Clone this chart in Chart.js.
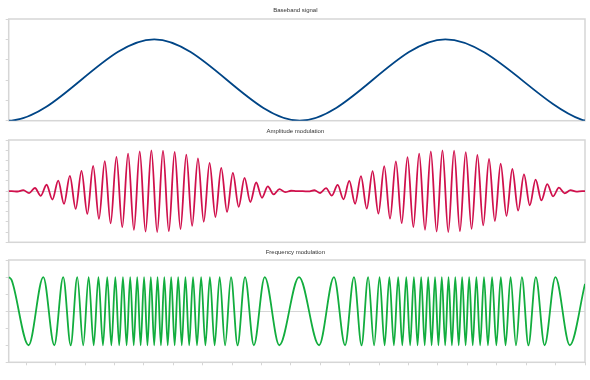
<!doctype html>
<html lang="en">
<head>
<meta charset="utf-8">
<title>Modulation</title>
<script src="https://cdn.jsdelivr.net/npm/chart.js@4.4.0/dist/chart.umd.min.js"></script>
<style>
  body { margin: 0; background: #fff; }
  #wrap { position: relative; width: 590px; height: 380px; }
  canvas { position: absolute; left: 0; }
</style>
</head>
<body>
<div id="wrap">
  <canvas id="base" width="590" height="125" style="top:0px"></canvas>
  <canvas id="am" width="590" height="120" style="top:125px"></canvas>
  <canvas id="fm" width="590" height="135" style="top:245px"></canvas>
</div>

<script>
// time runs 2..100, ticks every 5 on the bottom axis
var baseTimes  = [2, 2.5, 26.75, 51.5, 76.25, 99.5, 100];
var baseValues = [0, 0.004, 4, 0, 4, 0.036, 0.016];

// AM: carrier peaks / troughs
var amTimes = [2, 2.50, 3.49, 4.48, 5.47, 6.46, 7.45, 8.44, 9.43, 10.42, 11.41, 12.40, 13.39, 14.38, 15.37, 16.36, 17.35, 18.34, 19.33, 20.32,
  21.31, 22.30, 23.29, 24.28, 25.27, 26.26, 27.25, 28.24, 29.23, 30.22, 31.21, 32.20, 33.19, 34.18, 35.17, 36.16, 37.15, 38.14, 39.13, 40.12,
  41.11, 42.10, 43.09, 44.08, 45.07, 46.06, 47.05, 48.04, 49.03, 50.02, 51.01, 52.00, 52.99, 53.98, 54.97, 55.96, 56.95, 57.94, 58.93, 59.92,
  60.91, 61.90, 62.89, 63.88, 64.87, 65.86, 66.85, 67.84, 68.83, 69.82, 70.81, 71.80, 72.79, 73.78, 74.77, 75.76, 76.75, 77.74, 78.73, 79.72,
  80.71, 81.70, 82.69, 83.68, 84.67, 85.66, 86.65, 87.64, 88.63, 89.62, 90.61, 91.60, 92.59, 93.58, 94.57, 95.56, 96.55, 97.54, 98.53, 99.52, 100];
var amValues = [0, 0.001, -0.007, 0.019, -0.038, 0.062, -0.091, 0.125, -0.163, 0.205, -0.250, 0.298, -0.347, 0.396, -0.446, 0.495, -0.543, 0.588, -0.631, 0.670,
  -0.705, 0.735, -0.759, 0.778, -0.792, 0.799, -0.800, 0.794, -0.783, 0.765, -0.741, 0.713, -0.679, 0.640, -0.598, 0.553, -0.505, 0.456, -0.406, 0.356,
  -0.306, 0.258, -0.212, 0.169, -0.130, 0.095, -0.065, 0.040, -0.021, 0.008, -0.001, 0.000, -0.006, 0.018, -0.036, 0.059, -0.088, 0.121, -0.159, 0.201,
  -0.246, 0.292, -0.342, 0.391, -0.441, 0.491, -0.538, 0.584, -0.627, 0.666, -0.701, 0.732, -0.757, 0.777, -0.790, 0.798, -0.800, 0.794, -0.782, 0.764,
  -0.738, 0.707, -0.671, 0.629, -0.584, 0.536, -0.485, 0.433, -0.380, 0.327, -0.276, 0.227, -0.181, 0.138, -0.101, 0.068, -0.042, 0.021, -0.008, 0.001, 0];

// FM: peaks / troughs, cycles squeeze where the baseband is high
var fmTimes = [2.000, 2.5, 5.384, 7.886, 9.757, 11.264, 12.543, 13.662, 14.671, 15.596, 16.455, 17.261, 18.027, 18.755, 19.457, 20.132, 20.787,
  21.426, 22.050, 22.660, 23.261, 23.853, 24.439, 25.019, 25.595, 26.168, 26.740, 27.312, 27.886, 28.461, 29.041, 29.626, 30.219, 30.819,
  31.429, 32.052, 32.690, 33.345, 34.019, 34.720, 35.448, 36.212, 37.015, 37.874, 38.796, 39.802, 40.917, 42.188, 43.685, 45.539, 48.013,
  51.373, 54.780, 57.311, 59.200, 60.716, 62.003, 63.125, 64.137, 65.065, 65.926, 66.734, 67.501, 68.230, 68.933, 69.609, 70.265, 70.904,
  71.528, 72.139, 72.740, 73.333, 73.918, 74.499, 75.075, 75.648, 76.220, 76.792, 77.366, 77.941, 78.521, 79.106, 79.698, 80.298, 80.908,
  81.530, 82.168, 82.822, 83.495, 84.196, 84.922, 85.685, 86.487, 87.343, 88.263, 89.266, 90.377, 91.641, 93.128, 94.966, 97.415, 100];
var fmValues = [1, 0.91, -1, 1, -1, 1, -1, 1, -1, 1, -1, 1, -1, 1, -1, 1, -1, 1, -1, 1, -1, 1, -1, 1, -1, 1, -1,
  1, -1, 1, -1, 1, -1, 1, -1, 1, -1, 1, -1, 1, -1, 1, -1, 1, -1, 1, -1, 1, -1, 1, -1,
  1, -1, 1, -1, 1, -1, 1, -1, 1, -1, 1, -1, 1, -1, 1, -1, 1, -1, 1, -1, 1, -1, 1, -1, 1, -1,
  1, -1, 1, -1, 1, -1, 1, -1, 1, -1, 1, -1, 1, -1, 1, -1, 1, -1, 1, -1, 1, -1, 1, -1, 0.8];

var gridGrey = '#d6d6d6';

// light box round the plot area
var frame = {
  id: 'frame',
  beforeDatasetsDraw(chart) {
    var a = chart.chartArea, c = chart.ctx;
    c.save();
    c.strokeStyle = gridGrey;
    c.lineWidth = 1.5;
    c.strokeRect(a.left, a.top, a.right - a.left, a.bottom - a.top);
    c.restore();
  }
};

function makeChart(id, title, titlePad, bottomPad, times, values, color, yMin, yMax, yStep, zeroLine, showX) {
  var pts = times.map(function (t, i) { return {x: t, y: values[i]}; });
  return new Chart(document.getElementById(id), {
    type: 'line',
    data: {
      datasets: [{
        data: pts,
        borderColor: color,
        borderWidth: 1.8,
        pointRadius: 0,
        fill: false,
        cubicInterpolationMode: 'monotone'
      }]
    },
    plugins: [frame],
    options: {
      responsive: false,
      animation: false,
      devicePixelRatio: 1,
      layout: {padding: {left: 5.7, right: 5, top: 0, bottom: bottomPad}},
      plugins: {
        legend: {display: false},
        tooltip: {enabled: false},
        title: {
          display: true,
          text: title,
          color: '#333',
          font: {family: 'Liberation Sans', size: 6, weight: 'normal', lineHeight: 1.2},
          padding: titlePad
        }
      },
      scales: {
        x: {
          type: 'linear',
          min: 2,
          max: 100,
          display: showX,
          ticks: {display: false, stepSize: 5},
          afterBuildTicks: function (s) { s.ticks = s.ticks.filter(function (t) { return t.value % 5 === 0; }); },
          grid: {drawOnChartArea: false, drawTicks: true, tickLength: 3, tickColor: gridGrey},
          border: {display: false}
        },
        y: {
          min: yMin,
          max: yMax,
          ticks: {display: false, stepSize: yStep},
          grid: {
            drawOnChartArea: zeroLine,
            tickLength: 3,
            tickColor: gridGrey,
            color: function (c) { return c.tick && Math.abs(c.tick.value) < 1e-9 ? gridGrey : 'rgba(0,0,0,0)'; }
          },
          border: {display: false}
        }
      }
    }
  });
}

makeChart('base', 'Baseband signal', {top: 6.8, bottom: 5}, 4.3, baseTimes, baseValues, '#004586', 0, 5, 1, false, false);
makeChart('am', 'Amplitude modulation', {top: 3.1, bottom: 4.7}, 2.7, amTimes, amValues, '#d0104c', -1, 1, 0.2, true, false);
makeChart('fm', 'Frequency modulation', {top: 3.4, bottom: 4.4}, 14.7, fmTimes, fmValues, '#12ad3e', -1.5, 1.5, 0.5, true, true);
</script>
</body>
</html>
